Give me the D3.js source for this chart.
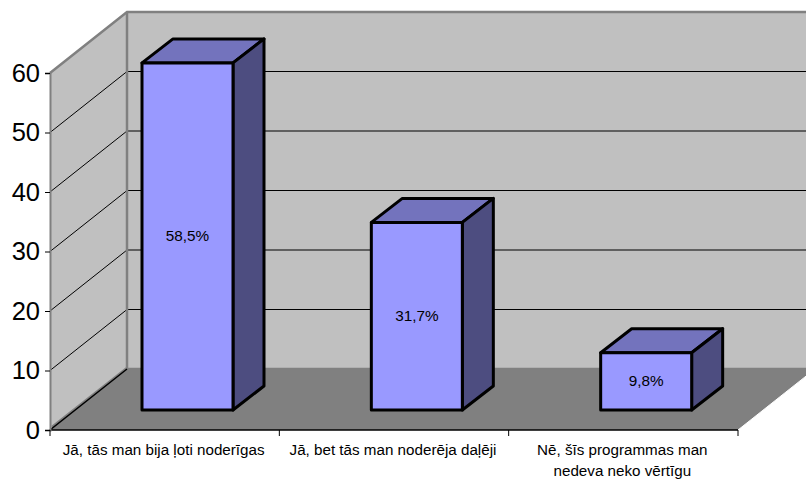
<!DOCTYPE html>
<html>
<head>
<meta charset="utf-8">
<script src="https://cdn.jsdelivr.net/npm/d3@7"></script>
<style>
  html, body { margin: 0; padding: 0; background: #fff; }
  svg { display: block; }
  text { font-family: "Liberation Sans", Arial, sans-serif; fill: #000; }
</style>
</head>
<body>
<svg id="chart"></svg>
<script>
var categories = [
  ["Jā, tās man bija ļoti noderīgas"],
  ["Jā, bet tās man noderēja daļēji"],
  ["Nē, šīs programmas man", "nedeva neko vērtīgu"]
];
var percentValues = [58.5, 31.7, 9.8];
var percentLabels = ["58,5%", "31,7%", "9,8%"];
var yTicks = [0, 10, 20, 30, 40, 50, 60];

var width = 806;
var height = 480;

// oblique offset of the back wall, and of the bars inside the floor
var depth = { x: 77, y: -61 };
var barDepth = { x: 31, y: -24 };
var barOffset = { x: 23, y: -20 };

var svg = d3.select("#chart").attr("width", width).attr("height", height);

var xScale = d3.scaleBand()
  .domain(d3.range(categories.length))
  .range([50, 738]);

var yScale = d3.scaleLinear()
  .domain([0, 60])
  .range([430, 73]);

var barWidth = 91;
var barPad = 92;

function pts(list) {
  return list.map(function(p) { return p[0] + "," + p[1]; }).join(" ");
}

var x0 = xScale.range()[0];
var x1 = xScale.range()[1];
var y0 = yScale(0);
var yTop = yScale(60);

// back wall
svg.append("polygon")
  .attr("points", pts([[x0 + depth.x, yTop + depth.y], [x1 + depth.x, yTop + depth.y], [x1 + depth.x, y0 + depth.y], [x0 + depth.x, y0 + depth.y]]))
  .attr("fill", "#c0c0c0");

// left wall
svg.append("polygon")
  .attr("points", pts([[x0, y0], [x0, yTop], [x0 + depth.x, yTop + depth.y], [x0 + depth.x, y0 + depth.y]]))
  .attr("fill", "#c0c0c0");

// floor
svg.append("polygon")
  .attr("points", pts([[x0, y0], [x1, y0], [x1 + depth.x, y0 + depth.y], [x0 + depth.x, y0 + depth.y]]))
  .attr("fill", "#808080");

// gridlines over both walls
yTicks.slice(1).forEach(function(t) {
  var y = yScale(t);
  svg.append("polyline")
    .attr("points", pts([[x0, y], [x0 + depth.x, y + depth.y], [x1 + depth.x, y + depth.y]]))
    .attr("fill", "none")
    .attr("stroke", "#000")
    .attr("stroke-width", 1);
});

// wall edges
var edge = svg.append("g").attr("fill", "none").attr("stroke", "#808080").attr("stroke-width", 2.5);
edge.append("polyline")
  .attr("points", pts([[x0, yTop], [x0 + depth.x, yTop + depth.y], [x1 + depth.x, yTop + depth.y]]));
edge.append("line")
  .attr("x1", x0 + depth.x).attr("x2", x0 + depth.x)
  .attr("y1", yTop + depth.y).attr("y2", y0 + depth.y);
edge.append("line")
  .attr("x1", x0 + depth.x).attr("x2", x1 + depth.x)
  .attr("y1", y0 + depth.y).attr("y2", y0 + depth.y);
edge.append("line")
  .attr("x1", x0 + 2).attr("x2", x0 + depth.x)
  .attr("y1", y0 - 3).attr("y2", y0 + depth.y - 1);

// floor outline
svg.append("polyline")
  .attr("points", pts([[x0 + depth.x, y0 + depth.y], [x0, y0], [x1, y0]]))
  .attr("fill", "none")
  .attr("stroke", "#000")
  .attr("stroke-width", 1.5);
svg.append("line")
  .attr("x1", x1).attr("y1", y0)
  .attr("x2", x1 + depth.x).attr("y2", y0 + depth.y)
  .attr("stroke", "#fff")
  .attr("stroke-width", 1);

// y axis
var yAxis = d3.axisLeft(yScale)
  .tickValues(yTicks)
  .tickSize(5)
  .tickPadding(5);
var yG = svg.append("g")
  .attr("transform", "translate(" + x0 + ",0)")
  .call(yAxis);
yG.select(".domain").attr("stroke", "#808080").attr("stroke-width", 2);
yG.selectAll("line").attr("stroke", "#000");
yG.selectAll("text")
  .attr("font-size", "25.5px")
  .attr("font-family", "Liberation Sans");

// x axis ticks
svg.selectAll(".xtick")
  .data(d3.range(categories.length + 1))
  .enter()
  .append("line")
  .attr("class", "xtick")
  .attr("x1", function(d) { return x0 + d * xScale.step(); })
  .attr("x2", function(d) { return x0 + d * xScale.step(); })
  .attr("y1", y0)
  .attr("y2", y0 + 6)
  .attr("stroke", "#000");

// bars
var bars = svg.selectAll(".bar")
  .data(percentValues)
  .enter()
  .append("g")
  .attr("class", "bar")
  .attr("stroke", "#000")
  .attr("stroke-width", 3)
  .attr("stroke-linejoin", "round");

function barLeft(i) { return xScale(i) + barPad; }
function barTop(d) { return yScale(d) + barOffset.y + 1; }
var barBottom = y0 + barOffset.y;

bars.append("polygon")
  .attr("fill", "#7373bd")
  .attr("points", function(d, i) {
    var l = barLeft(i), t = barTop(d);
    return pts([[l, t], [l + barWidth, t], [l + barWidth + barDepth.x, t + barDepth.y], [l + barDepth.x, t + barDepth.y]]);
  });

bars.append("polygon")
  .attr("fill", "#4d4d80")
  .attr("points", function(d, i) {
    var r = barLeft(i) + barWidth, t = barTop(d);
    return pts([[r, t], [r + barDepth.x, t + barDepth.y], [r + barDepth.x, barBottom + barDepth.y], [r, barBottom]]);
  });

bars.append("rect")
  .attr("fill", "#9999ff")
  .attr("x", function(d, i) { return barLeft(i); })
  .attr("y", function(d) { return barTop(d); })
  .attr("width", barWidth)
  .attr("height", function(d) { return barBottom - barTop(d); });

// value labels
svg.selectAll(".value")
  .data(percentValues)
  .enter()
  .append("text")
  .attr("class", "value")
  .attr("text-anchor", "middle")
  .attr("font-size", "15.3px")
  .attr("x", function(d, i) { return barLeft(i) + barWidth / 2; })
  .attr("y", function(d) { return (barTop(d) + barBottom) / 2 + 5; })
  .text(function(d, i) { return percentLabels[i]; });

// category labels
categories.forEach(function(lines, i) {
  lines.forEach(function(line, j) {
    svg.append("text")
      .attr("text-anchor", "middle")
      .attr("font-size", "15.2px")
      .attr("x", xScale(i) + xScale.bandwidth() / 2 + (i == 0 ? -1 : -1))
      .attr("y", 455 + j * 21)
      .text(line);
  });
});
</script>
</body>
</html>
